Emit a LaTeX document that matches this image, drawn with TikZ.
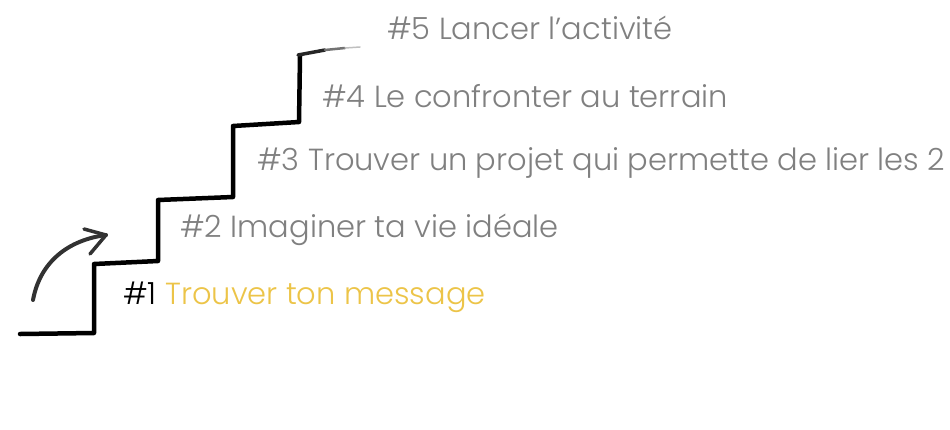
\documentclass[tikz,border=0pt]{standalone}
\usepackage{fontspec}
\setmainfont{Poppins}[UprightFont=* Light]
\definecolor{stepgray}{RGB}{128,128,128}
\definecolor{stepyellow}{RGB}{236,196,72}
\definecolor{arrowgray}{RGB}{50,50,50}
\tikzset{
	steptext/.style={anchor=west, inner sep=0pt, text=stepgray, font=\fontsize{30.5}{30.5}\selectfont},
}
\begin{document}
\begin{tikzpicture}[x=1pt, y=-1pt]
			\useasboundingbox (0, 0) rectangle (950, 429);

			\draw [line width=4.5pt, line join=round, line cap=round]
				(20, 334) -- (94, 333) -- (94, 264) -- (158, 261)
				-- (158, 200) -- (233, 197) -- (233, 126) -- (299, 122)
				-- (300, 56);
			\draw [line width=3.5pt, line cap=round, black!85] (298, 55) -- (325, 50);
			\draw [line width=2.5pt, line cap=round, black!55] (325, 50) -- (345, 48);
			\draw [line width=1.5pt, line cap=round, black!25] (345, 48) -- (360, 47);

			\draw [line width=4pt, arrowgray, line cap=round]
				(33, 300) .. controls (40, 262) and (68, 240) .. (106, 235);
			\draw [line width=3.5pt, arrowgray, line cap=round, line join=round]
				(84, 229) -- (106, 235) -- (90, 254);

			\node (s1) [steptext, text=black] at (123, 297) {\#1 \textcolor{stepyellow}{Trouver ton message}};
			\node (s2) [steptext] at (180, 230) {\#2 Imaginer ta vie idéale};
			\node (s3) [steptext] at (257, 163) {\#3 Trouver un projet qui permette de lier les 2};
			\node (s4) [steptext] at (322, 96) {\#4 Le confronter au terrain};
			\node (s5) [steptext] at (387, 28) {\#5 Lancer l’activité};
		\end{tikzpicture}
\end{document}
